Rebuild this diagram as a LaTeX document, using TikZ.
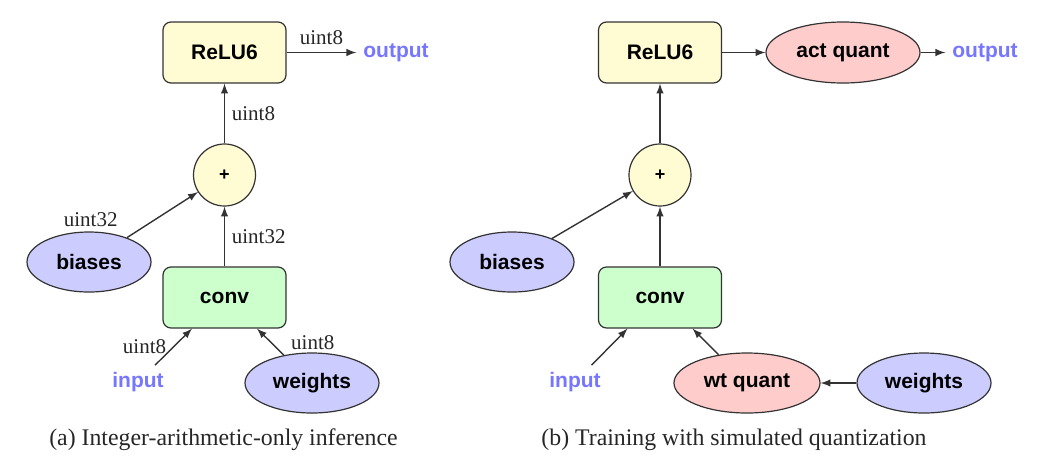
\documentclass[tikz,border=0pt]{standalone}
\usepackage{xcolor}
\usepackage{fontspec}
\setmainfont{Liberation Serif}
\setsansfont{Liberation Sans}
\usepackage{tikz}
\usetikzlibrary{positioning,shapes.geometric}
\definecolor{opyellow}{RGB}{255, 251, 210}
\definecolor{opgreen}{RGB}{204, 255, 204}
\definecolor{datablue}{RGB}{204, 204, 255}
\definecolor{quantpink}{RGB}{255, 204, 204}
\definecolor{iotext}{RGB}{118, 118, 255}

\begin{document}
\begin{tikzpicture}[node distance=61.25pt, on grid, auto]
    % Define styles
    \tikzstyle{box} = [rectangle, draw=black!80, line width=0.6pt, fill=opyellow, minimum width=61.5pt, minimum height=30.5pt, rounded corners=4pt, font=\fontsize{10.5}{12}\sffamily\bfseries]
    \tikzstyle{adder} = [circle, draw=black!80, line width=0.6pt, fill=opyellow, minimum size=31pt, inner sep=0pt, font=\fontsize{9}{10}\sffamily\bfseries]
    \tikzstyle{blob} = [ellipse, draw=black!80, line width=0.6pt, fill=datablue, minimum width=62pt, minimum height=30pt, font=\fontsize{10.5}{12}\sffamily\bfseries]
    \tikzstyle{io} = [text=iotext, font=\fontsize{10.5}{12}\sffamily\bfseries]
    \tikzstyle{dtype} = [font=\fontsize{10.5}{12}\rmfamily, text=black!85]
    \tikzstyle{caption} = [font=\fontsize{11.9}{14}\rmfamily, text=black!85]
    \tikzstyle{line} = [draw=black!80, line width=0.7pt, -latex]

    \useasboundingbox (0,0) rectangle (519pt,-236pt);

    % Nodes (a)
    \node [box] (relu) at (112.25pt,-26.25pt) {ReLU6};
    \node [adder, below of=relu] (plus) {+};
    \node [box, fill=opgreen, below of=plus] (conv) {conv};
    \node [blob, above left=17.75pt and 67.75pt of conv] (biases) {biases};
    \node [io, below left=42.25pt and 43.25pt of conv] (input) {input};
    \node [blob, minimum width=67pt, below right=42.75pt and 43.75pt of conv] (weights) {weights};
    \node [io, right=85.75pt of relu] (output) {output};
    \node [caption] (capa) at (111.75pt,-220pt) {(a) Integer-arithmetic-only inference};

    % Connections (a)
    \path [line] (relu) -- node [dtype, pos=0.5, above] {uint8} (output);
    \path [line] (plus) -- node [dtype, right] {uint8} (relu);
    \path [line] (conv) -- node [dtype, right] {uint32} (plus);
    \path [line] (biases) -- node [dtype, pos=0, above left, xshift=-1pt, yshift=2pt] {uint32} (plus);
    \path [line] (input) -- node [dtype, pos=0.5, left] {uint8} ([xshift=-16.25pt]conv.south);
    \path [line] (weights) -- node [dtype, pos=0, above right, yshift=-1pt] {uint8} ([xshift=16.25pt]conv.south);

    % Nodes (b)
    \node [box] (relu2) at (330pt,-26.25pt) {ReLU6};
    \node [adder, below of=relu2] (plus2) {+};
    \node [box, fill=opgreen, below of=plus2] (conv2) {conv};
    \node [blob, above left=17.75pt and 74pt of conv2] (biases2) {biases};
    \node [io, below left=42.25pt and 42.5pt of conv2] (input2) {input};
    \node [blob, fill=quantpink, minimum width=73pt, below right=42.75pt and 43.5pt of conv2] (wtquant) {wt quant};
    \node [blob, minimum width=67pt, right=88.5pt of wtquant] (weights2) {weights};
    \node [blob, fill=quantpink, minimum width=77pt, minimum height=30.5pt, right=91.5pt of relu2] (actquant) {act quant};
    \node [io, right=71pt of actquant] (output2) {output};
    \node [caption] (capb) at (367pt,-220pt) {(b) Training with simulated quantization};

    % Connections (b)
    \path [line] (relu2) -- (actquant);
    \path [line] (actquant) -- (output2);
    \path [line] (plus2) -- (relu2);
    \path [line] (conv2) -- (plus2);
    \path [line] (biases2) -- (plus2);
    \path [line] (input2) -- ([xshift=-16.25pt]conv2.south);
    \path [line] (wtquant) -- ([xshift=16.25pt]conv2.south);
    \path [line] (weights2) -- (wtquant);
\end{tikzpicture}
\end{document}
